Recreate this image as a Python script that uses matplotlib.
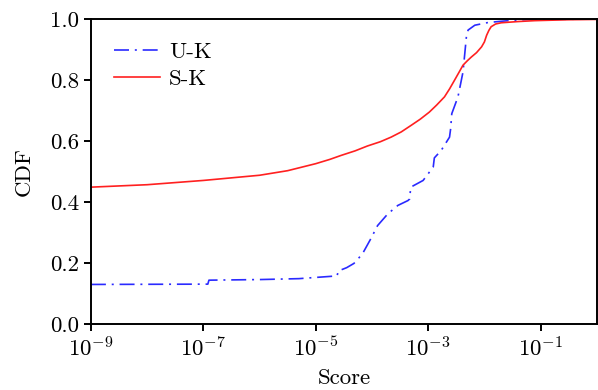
import numpy as np
import matplotlib
matplotlib.use("Agg")
import matplotlib.pyplot as plt

# ----------------------
# Data (log10 of score vs CDF)
# ----------------------
uk_logx = [-9.0, -6.92, -6.90, -6.0, -5.3, -4.62, -4.60, -4.45, -4.32, -4.17,
           -4.02, -3.90, -3.72, -3.54, -3.36, -3.33, -3.31, -3.09, -2.91, -2.89,
           -2.77, -2.62, -2.60, -2.58, -2.47, -2.38, -2.32, -2.29, -2.17, -1.93,
           -1.57, -1.2, 0.0]
uk_cdf = [0.130, 0.131, 0.144, 0.146, 0.149, 0.158, 0.174, 0.185, 0.199, 0.230,
          0.280, 0.323, 0.361, 0.389, 0.405, 0.410, 0.449, 0.471, 0.515, 0.545,
          0.569, 0.613, 0.641, 0.690, 0.745, 0.827, 0.942, 0.964, 0.980, 0.989,
          0.995, 0.999, 1.0]

sk_logx = [-9.0, -8.0, -7.0, -6.0, -5.5, -5.0, -4.75, -4.55, -4.3, -4.08,
           -3.85, -3.66, -3.48, -3.30, -3.14, -2.98, -2.85, -2.71, -2.62, -2.53,
           -2.45, -2.38, -2.30, -2.23, -2.14, -2.05, -2.00, -1.96, -1.92, -1.88,
           -1.80, -1.70, -1.4, -1.1, -0.5, 0.0]
sk_cdf = [0.449, 0.457, 0.471, 0.488, 0.503, 0.526, 0.540, 0.553, 0.568, 0.584,
          0.598, 0.613, 0.630, 0.652, 0.672, 0.695, 0.718, 0.745, 0.771, 0.800,
          0.826, 0.849, 0.864, 0.876, 0.890, 0.909, 0.925, 0.947, 0.963, 0.975,
          0.984, 0.988, 0.992, 0.995, 0.998, 0.999]

x_ticks = [1e-9, 1e-7, 1e-5, 1e-3, 1e-1]
y_ticks = [0.0, 0.2, 0.4, 0.6, 0.8, 1.0]

# ----------------------
# Style
# ----------------------
plt.rcParams["font.family"] = "cmr10"
plt.rcParams["mathtext.fontset"] = "cm"
plt.rcParams["axes.formatter.use_mathtext"] = True
fs = 16.5

fig = plt.figure(figsize=(5.98, 3.90), dpi=100)
ax = fig.add_axes([0.152, 0.169, 0.846, 0.782])

ax.plot(10.0 ** np.array(uk_logx), uk_cdf, color="#2a2aff", lw=1.2,
        linestyle=(0, (9, 3.5, 1.2, 3.5)), label="U-K")
ax.plot(10.0 ** np.array(sk_logx), sk_cdf, "-", color="#ff2020", lw=1.2, label="S-K")

ax.set_xscale("log")
ax.set_xlim(1e-9, 1)
ax.set_ylim(0, 1)
ax.set_xticks(x_ticks)
ax.xaxis.set_minor_locator(matplotlib.ticker.NullLocator())
ax.set_yticks(y_ticks)
ax.set_yticklabels([f"{v:.1f}" for v in y_ticks])
ax.tick_params(direction="out", length=5, width=1.4, labelsize=fs)
for s in ax.spines.values():
    s.set_linewidth(1.4)

ax.set_xlabel("Score", fontsize=fs, labelpad=6)
ax.set_ylabel("CDF", fontsize=fs, labelpad=12)
ax.legend(loc="upper left", frameon=False, fontsize=fs, handlelength=2.0,
          handletextpad=0.4, borderaxespad=0.6, labelspacing=0.3)

fig.savefig("out.png", dpi=100)
